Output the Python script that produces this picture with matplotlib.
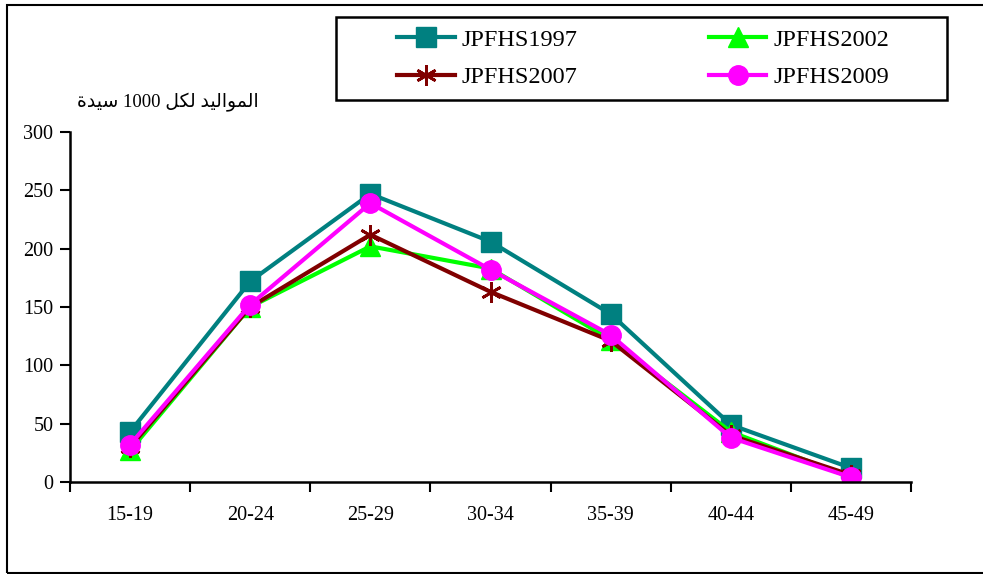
import matplotlib
matplotlib.use('Agg')
import matplotlib.pyplot as plt
from matplotlib.patches import Rectangle

plt.rcParams['font.family'] = ['Liberation Serif', 'DejaVu Sans']

age_groups = ['15-19', '20-24', '25-29', '30-34', '35-39', '40-44', '45-49']
jpfhs1997 = [43, 172, 247, 206, 144, 49, 12]
jpfhs2002 = [27, 150, 202, 183, 122, 43, 4]
jpfhs2007 = [30, 150, 212, 163, 121, 40, 6]
jpfhs2009 = [32, 152, 239, 182, 126, 38, 4]
y_ticks = [0, 50, 100, 150, 200, 250, 300]

# Arabic label, pre-shaped (presentation forms, visual order) since matplotlib has no bidi
# "المواليد لكل 1000 سيدة"
ylabel_text = ('\uFE93\uFEAA\uFEF4\uFEB3 1000 \uFEDE\uFEDC\uFEDF '
               '\uFEAA\uFEF4\uFEDF\uFE8D\uFEEE\uFEE4\uFEDF\uFE8D')

fig = plt.figure(figsize=(9.83, 5.74), dpi=100)
ax = fig.add_axes([0.0712, 0.1603, 0.8556, 0.6097])

x = list(range(len(age_groups)))
l97, = ax.plot(x, jpfhs1997, color='#008080', lw=3, marker='s', ms=14, label='JPFHS1997')
l02, = ax.plot(x, jpfhs2002, color='#00FF00', lw=3, marker='^', ms=14, label='JPFHS2002')
l07, = ax.plot(x, jpfhs2007, color='#800000', lw=3, marker=(6, 2, 0), ms=15, mew=2, label='JPFHS2007')
l09, = ax.plot(x, jpfhs2009, color='#FF00FF', lw=3, marker='o', ms=14, label='JPFHS2009')

ax.set_xlim(-0.5, len(age_groups) - 0.5)
ax.set_ylim(0, 300)
ax.set_yticks(y_ticks)
ax.set_xticks([i - 0.5 for i in range(len(age_groups) + 1)])
ax.set_xticklabels([])
ax.set_xticks(x, minor=True)
ax.set_xticklabels(age_groups, minor=True)
ax.tick_params(axis='x', which='major', direction='out', length=7, width=1.5)
ax.tick_params(axis='x', which='minor', length=0, pad=17, labelsize=14.5)
ax.tick_params(axis='y', direction='out', length=7, width=1.5, pad=5, labelsize=14.5)
ax.spines['top'].set_visible(False)
ax.spines['right'].set_visible(False)
ax.spines['left'].set_linewidth(1.8)
ax.spines['bottom'].set_linewidth(1.8)

fig.text(0.171, 0.821, ylabel_text, ha='center', va='center', fontsize=13.5)

# legend box drawn separately, entries centred inside it
box_x0, box_y0, box_w, box_h = 0.3418, 0.8258, 0.6216, 0.1446
fig.add_artist(Rectangle((box_x0, box_y0), box_w, box_h, transform=fig.transFigure,
                         fill=False, edgecolor='black', linewidth=1.8))
fig.legend([l97, l07, l02, l09], ['JPFHS1997', 'JPFHS2007', 'JPFHS2002', 'JPFHS2009'],
           ncol=2, loc='center', bbox_to_anchor=(box_x0 + box_w / 2 + 0.002, box_y0 + box_h / 2),
           fontsize=17.5, handlelength=2.35, frameon=False, borderaxespad=0,
           labelspacing=0.62, handletextpad=0.3, borderpad=0, columnspacing=5.4)

fig.add_artist(Rectangle((0.007, 0.002), 1.2, 0.989, transform=fig.transFigure,
                         fill=False, edgecolor='black', linewidth=1.5, clip_on=False))

fig.savefig('out.png', dpi=100)
